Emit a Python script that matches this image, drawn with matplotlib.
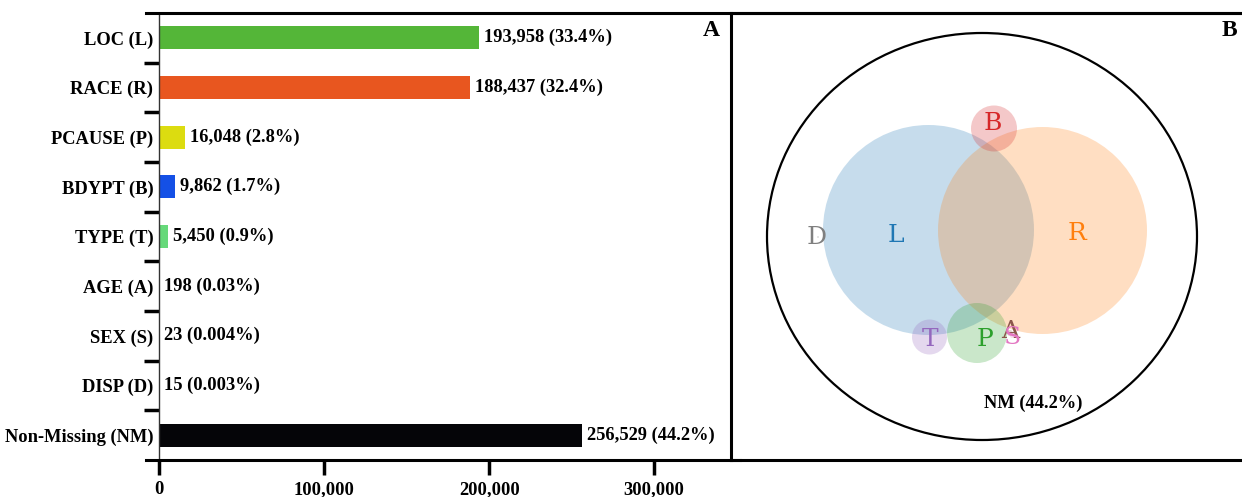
import matplotlib
matplotlib.use("Agg")
import matplotlib.pyplot as plt
from matplotlib.patches import Ellipse
from matplotlib.lines import Line2D

# ---------------- data ----------------
categories = ["LOC (L)", "RACE (R)", "PCAUSE (P)", "BDYPT (B)", "TYPE (T)",
              "AGE (A)", "SEX (S)", "DISP (D)", "Non-Missing (NM)"]
counts = [193958, 188437, 16048, 9862, 5450, 198, 23, 15, 256529]
value_labels = ["193,958 (33.4%)", "188,437 (32.4%)", "16,048 (2.8%)",
                "9,862 (1.7%)", "5,450 (0.9%)", "198 (0.03%)",
                "23 (0.004%)", "15 (0.003%)", "256,529 (44.2%)"]
bar_colors = ["#54b638", "#e8561f", "#dcdc10", "#1450e6", "#66d97a",
              "#54b638", "#e377c2", "#7f7f7f", "#050508"]
xticks = [0, 100000, 200000, 300000]
xtick_labels = ["0", "100,000", "200,000", "300,000"]

# Venn-like diagram (panel B) in pixel-like coordinates of the panel
venn_sets = ["L", "R", "B", "P", "T", "A", "S", "D"]
venn_centers = [(928.5, 230), (1042.5, 230.5), (994, 128.5), (977, 333),
                (929.5, 337), (1010, 333), (1012, 336), (818, 237)]
venn_sizes = [(211, 210), (209, 207), (46, 46), (60, 60), (35, 35),
              (6, 6), (4, 4), (2, 2)]
venn_colors = ["#1f77b4", "#ff7f0e", "#d62728", "#2ca02c", "#9467bd",
               "#8c564b", "#e377c2", "#7f7f7f"]
venn_label_pos = [(896, 236), (1077, 233), (993, 124), (985, 339),
                  (930, 339), (1010, 331), (1013, 338), (817, 237)]
outer_center = (982, 236.5)
outer_size = (430, 407)
nm_label = "NM (44.2%)"

W, H = 1242, 497
fig = plt.figure(figsize=(W / 100, H / 100), dpi=100)
serif = ["Liberation Serif", "DejaVu Serif"]
FS = 13.3

def fx(px):
    return px / W

def fy(py):
    return 1 - py / H

# ---------------- panel A ----------------
axL = fig.add_axes([fx(159), fy(460), fx(731) - fx(159), fy(13) - fy(460)])
ypos = list(range(len(categories)))
axL.barh(ypos, counts, height=0.46, color=bar_colors, edgecolor="none")
for y, c, lab in zip(ypos, counts, value_labels):
    axL.annotate(lab, (c, y), xytext=(3.5, 0), textcoords="offset points",
                 va="center", ha="left", fontsize=FS, fontweight="bold",
                 family=serif)
axL.set_ylim(len(categories) - 0.5, -0.5)
axL.set_xlim(0, 346500)
axL.set_yticks(ypos)
axL.set_yticklabels(categories, fontsize=FS, fontweight="bold", family=serif)
axL.tick_params(axis="y", length=0, pad=4)
axL.set_yticks([i + 0.5 for i in range(len(categories) - 1)], minor=True)
axL.tick_params(axis="y", which="minor", length=11, width=2.5, color="black",
                direction="out")
axL.set_xticks(xticks)
axL.set_xticklabels(xtick_labels, fontsize=FS, fontweight="bold", family=serif)
axL.tick_params(axis="x", length=11, width=2.5, direction="out", pad=4)
for s in ["top", "bottom", "right"]:
    axL.spines[s].set_visible(False)
axL.spines["left"].set_linewidth(1.0)
axL.spines["left"].set_color("#333333")
axL.text(0.965, 0.96, "A", transform=axL.transAxes, ha="center", va="center",
         fontsize=17, fontweight="bold", family=serif)

# frame lines
fig.add_artist(Line2D([fx(146), 1], [fy(13), fy(13)], color="black", lw=2.2))
fig.add_artist(Line2D([fx(146), fx(740)], [fy(460), fy(460)], color="black", lw=2.2))

# ---------------- panel B ----------------
axR = fig.add_axes([fx(731), fy(460), 1 - fx(731), fy(13) - fy(460)])
axR.set_xlim(731, 1242)
axR.set_ylim(460, 13)
axR.set_xticks([])
axR.set_yticks([])
for s in ["top", "bottom", "left"]:
    axR.spines[s].set_linewidth(2.2)
axR.spines["right"].set_visible(False)

axR.add_patch(Ellipse(outer_center, outer_size[0], outer_size[1],
                      facecolor="none", edgecolor="black", lw=1.6))
for name, c, (w, h), col in zip(venn_sets, venn_centers, venn_sizes, venn_colors):
    axR.add_patch(Ellipse(c, w, h, facecolor=col, alpha=0.25, edgecolor="none"))
for name, (x, y), col in zip(venn_sets, venn_label_pos, venn_colors):
    axR.text(x, y, name, color=col, ha="center", va="center", fontsize=18,
             family="DejaVu Serif")
axR.text(1033, 403, nm_label, ha="center", va="center", fontsize=13.3,
         fontweight="bold", family=serif)
axR.text(1229, 30, "B", ha="center", va="center", fontsize=17,
         fontweight="bold", family=serif)

fig.savefig("out.png", dpi=100)
